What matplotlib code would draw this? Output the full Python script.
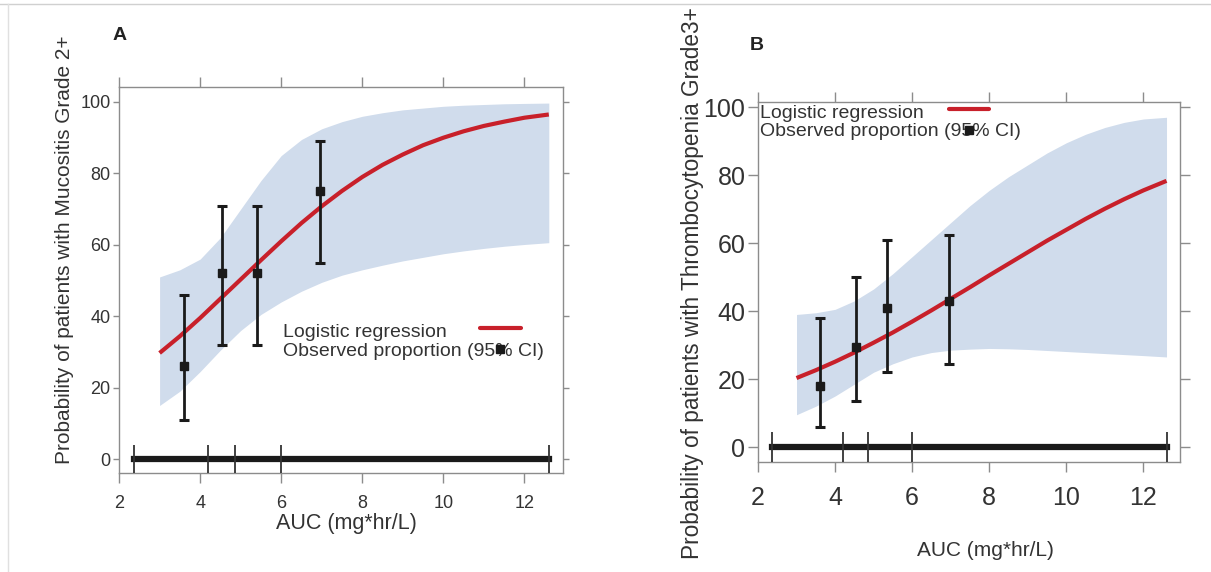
import matplotlib.pyplot as plt
from matplotlib.lines import Line2D

plt.rcParams['font.family'] = ['Liberation Sans', 'DejaVu Sans']

# AUC values where the fitted curves / CI bands were read
auc_grid = [3.0, 3.5, 4.0, 4.5, 5.0, 5.5, 6.0, 6.5, 7.0, 7.5,
            8.0, 8.5, 9.0, 9.5, 10.0, 10.5, 11.0, 11.5, 12.0, 12.6]

# panel A - mucositis grade 2+
mucos_fit = [29.7, 34.4, 39.5, 44.9, 50.3, 55.7, 61.0, 66.1, 70.8, 75.1,
             79.0, 82.4, 85.3, 87.9, 90.0, 91.8, 93.3, 94.5, 95.6, 96.5]
mucos_lo = [15, 19, 24.5, 30.5, 36, 40.5, 44, 47, 49.5, 51.5,
            53, 54.3, 55.5, 56.5, 57.5, 58.3, 59, 59.6, 60.1, 60.6]
mucos_hi = [51, 53, 56, 62, 70, 78, 85, 89.5, 92.5, 94.5,
            96, 97, 97.8, 98.3, 98.8, 99.1, 99.3, 99.5, 99.6, 99.7]
mucos_x = [3.6, 4.55, 5.4, 6.95]
mucos_obs = [26, 52, 52, 75]
mucos_ci_lo = [11, 32, 32, 55]
mucos_ci_hi = [46, 71, 71, 89]

# panel B - thrombocytopenia grade 3+
throm_fit = [20.3, 22.6, 25.1, 27.8, 30.7, 33.7, 36.9, 40.2, 43.6, 47.0,
             50.5, 53.9, 57.3, 60.7, 63.9, 67.1, 70.1, 72.9, 75.5, 78.3]
throm_lo = [9.5, 12, 15, 18.5, 22, 24.5, 26.5, 27.8, 28.5, 28.8,
            29, 28.9, 28.7, 28.4, 28.1, 27.8, 27.5, 27.2, 26.9, 26.5]
throm_hi = [39, 39.5, 40.5, 43, 46.5, 51, 56, 61, 66, 71,
            75.5, 79.5, 83, 86.5, 89.5, 92, 94, 95.5, 96.5, 97]
throm_x = [3.6, 4.55, 5.35, 6.95]
throm_obs = [18, 29.5, 41, 43]
throm_ci_lo = [6, 13.5, 22, 24.5]
throm_ci_hi = [38, 50, 61, 62.5]

# AUC group boundaries (rug drawn at y = 0)
auc_cuts = [2.37, 4.2, 4.85, 6.0, 12.6]

legend_labels = ['Logistic regression', 'Observed proportion (95% CI)']

red = '#c8202a'
band = '#d0dcec'
ink = '#1a1a1a'
grey = '#8c8c8c'


def panel(ax, fit, lo, hi, xs, obs, cil, cih, ylim, rug_h, tsize, leg):
    ax.fill_between(auc_grid, lo, hi, color=band, lw=0, zorder=1)
    ax.plot(auc_grid, fit, color=red, lw=3, zorder=3, solid_capstyle='butt')
    yerr = [[o - l for o, l in zip(obs, cil)], [h - o for o, h in zip(obs, cih)]]
    ax.errorbar(xs, obs, yerr=yerr, fmt='s', color=ink, ms=6, elinewidth=2,
                capsize=3.5, capthick=2.2, zorder=4)
    ax.plot([auc_cuts[0], auc_cuts[-1]], [0, 0], color=ink, lw=4.5, zorder=3)
    ax.vlines(auc_cuts, -rug_h, rug_h, color='#333333', lw=1.3, zorder=4)

    ax.set_xlim(2, 12.95)
    ax.set_ylim(*ylim)
    ax.set_xticks([2, 4, 6, 8, 10, 12])
    ax.set_yticks([0, 20, 40, 60, 80, 100])
    for s in ax.spines.values():
        s.set_color(grey)
        s.set_linewidth(1)
    ax.tick_params(direction='out', top=True, right=True, labeltop=False,
                   labelright=False, length=7, width=1, color=grey,
                   labelcolor='#333333', labelsize=tsize)

    # legend in R style: labels on the left, keys drawn to the right
    tx, ty1, ty2, lx0, lx1, ly, mx, my = leg
    ax.text(tx, ty1, legend_labels[0], transform=ax.transAxes, fontsize=14,
            color='#333333', va='center', ha='left', zorder=5)
    ax.text(tx, ty2, legend_labels[1], transform=ax.transAxes, fontsize=14,
            color='#333333', va='center', ha='left', zorder=5)
    ax.plot([lx0, lx1], [ly, ly], transform=ax.transAxes, color=red, lw=3,
            solid_capstyle='round', zorder=6)
    ax.plot([mx], [my], 's', transform=ax.transAxes, color=ink, ms=6, zorder=6)


fig = plt.figure(figsize=(12.11, 5.72), dpi=100)
axA = fig.add_axes([0.0983, 0.1731, 0.3666, 0.6748])
axB = fig.add_axes([0.6259, 0.1923, 0.3485, 0.6294])

panel(axA, mucos_fit, mucos_lo, mucos_hi, mucos_x, mucos_obs, mucos_ci_lo,
      mucos_ci_hi, (-3.9, 104.2), 3.9, 13,
      (0.369, 0.365, 0.316, 0.813, 0.905, 0.376, 0.858, 0.321))
panel(axB, throm_fit, throm_lo, throm_hi, throm_x, throm_obs, throm_ci_lo,
      throm_ci_hi, (-4.4, 101.5), 4.4, 18,
      (0.005, 0.969, 0.917, 0.453, 0.547, 0.981, 0.50, 0.922))
axA.tick_params(axis='y', which='both', left=True, length=4, pad=2)
axA.tick_params(axis='x', pad=9)
axB.tick_params(axis='y', pad=2)
axB.tick_params(axis='x', pad=10)

# axis titles and panel letters
fig.text(346 / 1211, 1 - 523 / 572, 'AUC (mg*hr/L)', ha='center', va='center',
         fontsize=15.5, color='#333333')
fig.text(65 / 1211, 1 - 250 / 572, 'Probability of patients with Mucositis Grade 2+',
         ha='center', va='center', rotation=90, fontsize=15, color='#333333')
fig.text(985 / 1211, 1 - 551 / 572, 'AUC (mg*hr/L)', ha='center', va='center',
         fontsize=15, color='#333333')
fig.text(693 / 1211, 1 - 283 / 572,
         'Probability of patients with Thrombocytopenia Grade3+',
         ha='center', va='center', rotation=90, fontsize=16.3, color='#333333')
fig.text(120 / 1211, 1 - 35 / 572, 'A', ha='center', va='center',
         fontsize=14, fontweight='bold', color='#222222')
fig.text(757 / 1211, 1 - 45 / 572, 'B', ha='center', va='center',
         fontsize=14, fontweight='bold', color='#222222')

# thin page frame of the clipping
fig.add_artist(Line2D([0, 1], [1 - 4 / 572] * 2, color='#d0d0d0', lw=1))
fig.add_artist(Line2D([8 / 1211] * 2, [0, 1 - 4 / 572], color='#e0e0e0', lw=1))

fig.savefig('out.png', dpi=100)
